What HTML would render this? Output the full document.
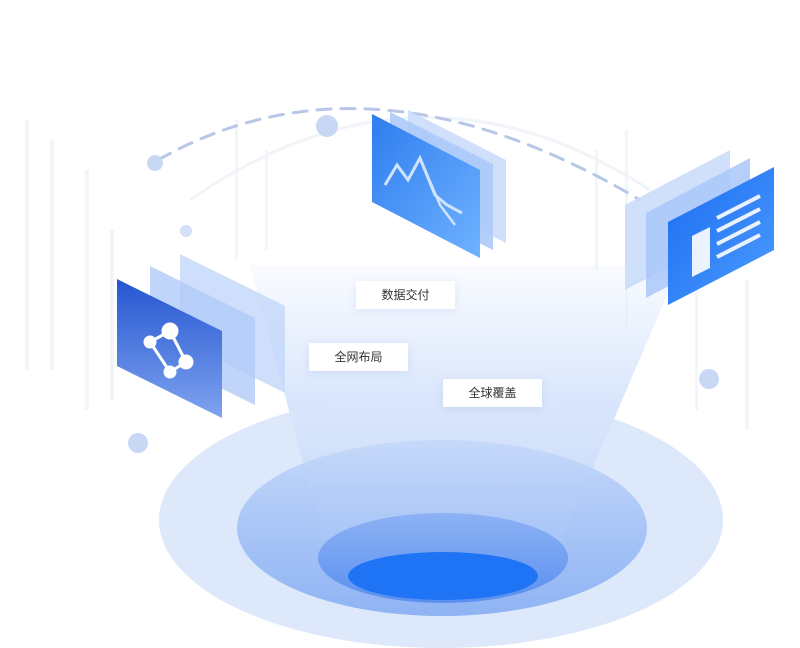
<!DOCTYPE html>
<html><head><meta charset="utf-8"><style>
html,body{margin:0;padding:0;background:#fff;}
body{width:800px;height:648px;overflow:hidden;position:relative;font-family:"Liberation Sans","Noto Sans CJK SC",sans-serif;}
.lbl{position:absolute;width:99px;height:28px;background:#fff;box-shadow:0 2px 8px rgba(120,150,210,0.18);font-size:12px;color:#333;text-align:center;line-height:28px;}
</style></head><body>
<svg width="800" height="648" viewBox="0 0 800 648" xmlns="http://www.w3.org/2000/svg" style="position:absolute;left:0;top:0">
<defs>
<linearGradient id="beam" x1="0" y1="0" x2="0" y2="1">
<stop offset="0" stop-color="#e9f0fd" stop-opacity="0.2"/>
<stop offset="0.4" stop-color="#dbe7fc" stop-opacity="0.8"/>
<stop offset="1" stop-color="#a9c6f7" stop-opacity="0.9"/>
</linearGradient>
<linearGradient id="mid" x1="0" y1="0" x2="0" y2="1">
<stop offset="0" stop-color="#c4d8fa"/><stop offset="1" stop-color="#8fb3f3"/>
</linearGradient>
<linearGradient id="inner" x1="0" y1="0" x2="0" y2="1">
<stop offset="0" stop-color="#8db2f4"/><stop offset="1" stop-color="#5a8ff0"/>
</linearGradient>
<linearGradient id="dark" x1="0" y1="0" x2="0" y2="1">
<stop offset="0" stop-color="#2556d0"/><stop offset="1" stop-color="#7ea3ef"/>
</linearGradient>
<linearGradient id="blue" x1="0" y1="0" x2="1" y2="1">
<stop offset="0" stop-color="#2e7df0"/><stop offset="1" stop-color="#6fb2ff"/>
</linearGradient>
<linearGradient id="blue2" x1="0" y1="0" x2="1" y2="1">
<stop offset="0" stop-color="#1a6cf0"/><stop offset="1" stop-color="#4d9cff"/>
</linearGradient>
</defs>
<g fill="#e8f1f5" opacity="0.6">
<rect x="25" y="120" width="4" height="250"/><rect x="50" y="140" width="4" height="230"/>
<rect x="85" y="170" width="4" height="240"/><rect x="110" y="230" width="4" height="170"/>
<rect x="235" y="120" width="3" height="140"/><rect x="265" y="150" width="3" height="100"/>
<rect x="595" y="150" width="3" height="120"/><rect x="625" y="130" width="3" height="200"/>
<rect x="695" y="290" width="3" height="120"/><rect x="745" y="280" width="4" height="150"/>
</g>
<path d="M190 200 Q420 40 650 190" fill="none" stroke="#f1f4f8" stroke-width="3"/>
<path d="M250 265 L680 265 L560 545 L325 545 Z" fill="url(#beam)"/>
<ellipse cx="441" cy="520" rx="282" ry="128" fill="#dde8fb"/>
<ellipse cx="442" cy="528" rx="205" ry="88" fill="url(#mid)"/>
<path d="M250 265 L680 265 L560 545 L325 545 Z" fill="url(#beam)" opacity="0.5"/>
<ellipse cx="443" cy="558" rx="125" ry="45" fill="url(#inner)"/>
<ellipse cx="443" cy="576" rx="95" ry="24" fill="#1f73f5"/>
<path d="M158 160 Q370 40 640 200" fill="none" stroke="#b8c7e6" stroke-width="3" stroke-dasharray="14 10" stroke-linecap="round"/>
<circle cx="327" cy="126" r="11" fill="#c8d7f4"/>
<circle cx="155" cy="163" r="8" fill="#c8d7f4"/>
<circle cx="186" cy="231" r="6" fill="#d3e0f7"/>
<circle cx="138" cy="443" r="10" fill="#c8d7f4"/>
<circle cx="709" cy="379" r="10" fill="#c8d7f4"/>
<polygon points="180,254 285,306 285,393 180,341" fill="#c3d7fa" opacity="0.8"/>
<polygon points="150,266 255,318 255,405 150,353" fill="#b0cbf8" opacity="0.8"/>
<polygon points="117,279 222,331 222,418 117,366" fill="url(#dark)"/>
<g stroke="#fff" stroke-width="3" fill="#fff">
<line x1="170" y1="331" x2="150" y2="342"/><line x1="170" y1="331" x2="186" y2="362"/>
<line x1="150" y1="342" x2="170" y2="372"/><line x1="186" y1="362" x2="170" y2="372"/>
<circle cx="170" cy="331" r="7"/><circle cx="150" cy="342" r="5"/><circle cx="186" cy="362" r="6"/><circle cx="170" cy="372" r="5"/>
</g>
<polygon points="408,110 506,160 506,243 408,193" fill="#c8dafa" opacity="0.85"/>
<polygon points="390,112 493,164 493,250 390,198" fill="#a9c7f9" opacity="0.85"/>
<polygon points="372,114 480,170 480,258 372,202" fill="url(#blue)"/>
<polyline points="385,185 397,165 408,180 420,158 435,195 447,205 462,213" fill="none" stroke="#cfe3ff" stroke-width="3"/>
<polyline points="420,158 440,205 455,225" fill="none" stroke="#cfe3ff" stroke-width="2.5"/>
<polygon points="625,205 730,150 730,235 625,290" fill="#c8dafa" opacity="0.85"/>
<polygon points="646,213 750,158 750,243 646,298" fill="#a9c7f9" opacity="0.85"/>
<polygon points="668,222 774,167 774,250 668,305" fill="url(#blue2)"/>
<polygon points="692,236 710,227 710,268 692,277" fill="#fff" opacity="0.9"/>
<g stroke="#fff" stroke-width="4" opacity="0.9">
<line x1="717" y1="218" x2="760" y2="196"/><line x1="717" y1="231" x2="760" y2="209"/>
<line x1="717" y1="244" x2="760" y2="222"/><line x1="717" y1="257" x2="760" y2="235"/>
</g>
</svg>
<div class="lbl" style="left:356px;top:281px">数据交付</div>
<div class="lbl" style="left:309px;top:343px">全网布局</div>
<div class="lbl" style="left:443px;top:379px">全球覆盖</div>
</body></html>
